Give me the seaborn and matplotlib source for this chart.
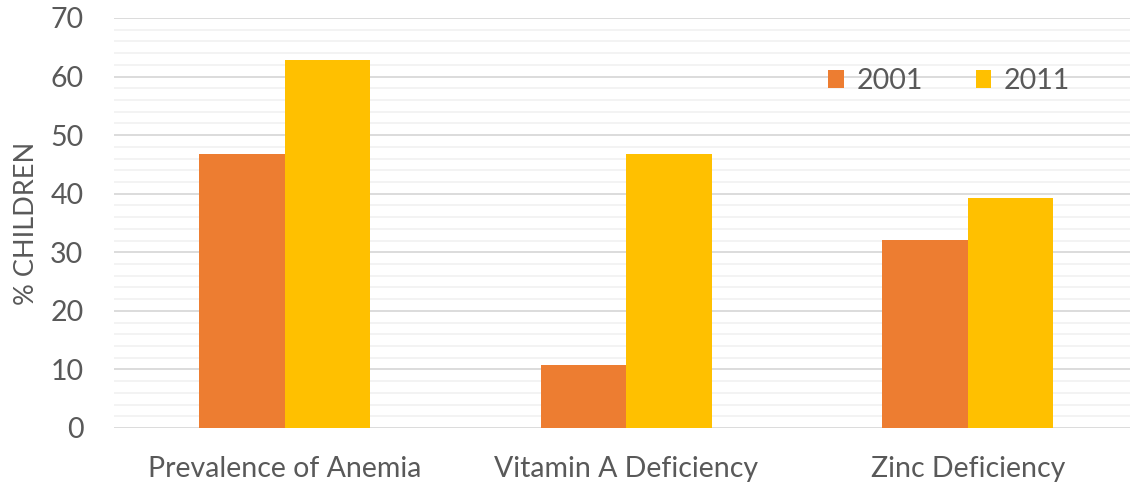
import numpy as np
import pandas as pd
import matplotlib.pyplot as plt
import seaborn as sns
from matplotlib.ticker import MultipleLocator

# data
categories = ['Prevalence of Anemia', 'Vitamin A Deficiency', 'Zinc Deficiency']
years = ['2001', '2011']
vals_2001 = [46.7, 10.8, 32.1]
vals_2011 = [62.8, 46.8, 39.3]

df = pd.DataFrame({
    'category': categories * 2,
    'year': [years[0]] * 3 + [years[1]] * 3,
    'pct': vals_2001 + vals_2011,
})

sns.set_style('white')
plt.rcParams['font.family'] = ['Lato', 'DejaVu Sans']
txt = '#595959'

fig = plt.figure(figsize=(11.3, 4.84), dpi=100)
ax = fig.add_axes([114 / 1130, 1 - 428 / 484, 1 - 114 / 1130, (428 - 18) / 484])

sns.barplot(data=df, x='category', y='pct', hue='year', hue_order=years,
            palette=['#ED7D31', '#FFC000'], width=0.5, ax=ax,
            edgecolor='none', linewidth=0, saturation=1)

ax.set_ylim(0, 70)
ax.set_xlim(-0.5, 2.475)
ax.yaxis.set_major_locator(MultipleLocator(10))
ax.yaxis.set_minor_locator(MultipleLocator(2))
ax.grid(axis='y', which='major', color='#d9d9d9', lw=1.3)
ax.grid(axis='y', which='minor', color='#f2f2f2', lw=1.3)
ax.set_axisbelow(True)
for s in ax.spines.values():
    s.set_visible(False)

ax.tick_params(axis='both', which='both', length=0, colors=txt, labelsize=20.5)
ax.tick_params(axis='y', pad=22)
ax.tick_params(axis='x', pad=20)
ax.set_xlabel('')
ax.set_ylabel('% CHILDREN', fontsize=19.5, color=txt, labelpad=8)

ax.legend(loc='center', bbox_to_anchor=(0.822, 0.846), ncol=2, frameon=False,
          fontsize=20.5, labelcolor=txt, handlelength=0.55, handleheight=0.55,
          handletextpad=0.45, columnspacing=1.85)

fig.savefig('out.png', dpi=100)
